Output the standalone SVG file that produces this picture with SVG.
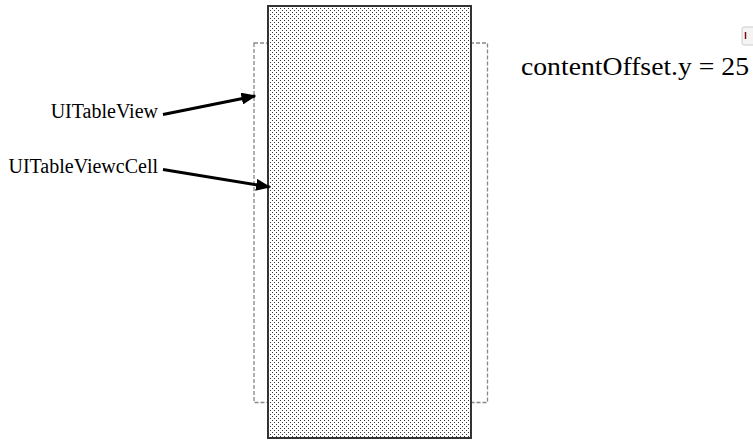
<svg xmlns="http://www.w3.org/2000/svg" width="753" height="447" viewBox="0 0 753 447">
<style>
.lbl{font-family:"Liberation Serif","Times New Roman",serif;font-size:20px;fill:#000}
.big{font-family:"Liberation Serif","Times New Roman",serif;font-size:25px;fill:#000}
.arrow{stroke:#000;stroke-width:3;fill:none}
</style>
<defs>
<pattern id="dots" width="4" height="4" patternUnits="userSpaceOnUse">
<rect width="4" height="4" fill="#fff"/>
<rect x="0" y="0" width="1" height="1" fill="#3a3a3a"/>
<rect x="2" y="2" width="1" height="1" fill="#3a3a3a"/>
</pattern>
<marker id="ah" markerWidth="5" markerHeight="4" refX="4.5" refY="2" orient="auto" markerUnits="strokeWidth">
<path d="M0,0 L5,2 L0,4 Z" fill="#000"/>
</marker>
</defs>
<rect width="753" height="447" fill="#fff"/>
<g id="tableview-bounds">
<rect x="254" y="43" width="233.5" height="359.5" fill="none" stroke="#888" stroke-width="1.3" stroke-dasharray="4,2"/>
</g>
<g id="content">
<rect x="268" y="6" width="203" height="432" fill="url(#dots)" stroke="#333" stroke-width="2"/>
</g>
<g id="label-tableview">
<text class="lbl" x="158" y="118" text-anchor="end">UITableView</text>
</g>
<g id="label-cell">
<text class="lbl" x="158" y="173" text-anchor="end">UITableViewcCell</text>
</g>
<g id="offset">
<text class="big" x="521" y="75" textLength="228" lengthAdjust="spacingAndGlyphs">contentOffset.y = 25</text>
</g>
<g id="corner-button">
<rect x="742" y="27" width="14" height="18" rx="2" fill="#f4f4f4" stroke="#ccc" stroke-width="1"/>
<line x1="745.5" y1="32" x2="745.5" y2="39" stroke="#7a1010" stroke-width="1.5"/>
</g>
<g id="connectors">
<line class="arrow" x1="163" y1="114.5" x2="255" y2="96" marker-end="url(#ah)"/>
<line class="arrow" x1="163" y1="169.5" x2="269.5" y2="187" marker-end="url(#ah)"/>
</g>
</svg>
